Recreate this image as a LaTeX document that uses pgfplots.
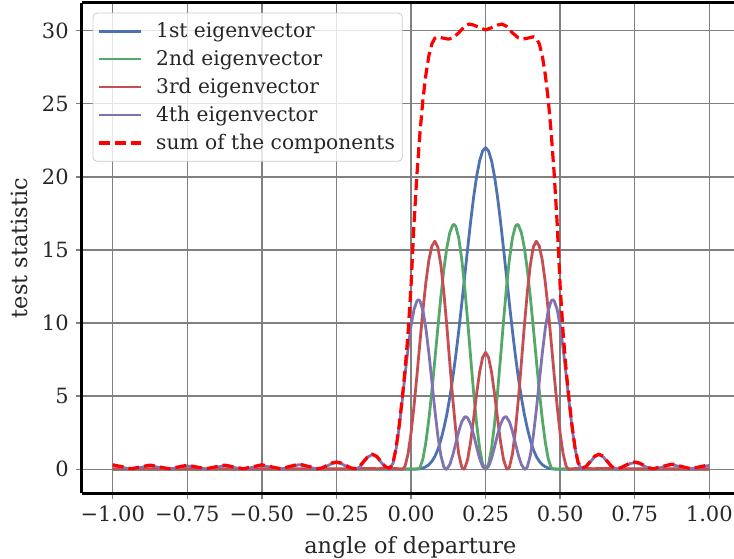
\documentclass[border=0pt]{standalone}
\usepackage{fontspec}
\setmainfont{DejaVu Serif}
\usepackage{pgfplots}
\pgfplotsset{compat=1.18}
\usetikzlibrary{calc}
\definecolor{sbblue}{HTML}{4C72B0}
\definecolor{sbgreen}{HTML}{55A868}
\definecolor{sbred}{HTML}{C44E52}
\definecolor{sbpurple}{HTML}{8172B2}
\definecolor{txt}{HTML}{262626}
\definecolor{gridc}{HTML}{808080}
\definecolor{legc}{HTML}{CCCCCC}
\newcommand{\fs}{\fontsize{10.5pt}{12pt}\selectfont}
\newcommand{\fg}{\fontsize{10.1pt}{12pt}\selectfont}
\newcommand{\fl}{\fontsize{11.2pt}{13pt}\selectfont}
\begin{document}
\begin{tikzpicture}
\begin{axis}[name=ax, scale only axis, width=326.15pt, height=245.3pt,
  xmin=-1.104, xmax=1.0828, ymin=-1.64, ymax=31.91,
  axis x line=box, axis y line=left,
  axis line style={-, line width=1.5pt, black},
  xtick={-1,-0.75,-0.5,-0.25,0,0.25,0.5,0.75,1},
  xticklabels={−1.00,−0.75,−0.50,−0.25,0.00,0.25,0.50,0.75,1.00},
  ytick={0,5,10,15,20,25,30},
  yticklabels={0,5,10,15,20,25,30},
  xtick pos=bottom, ytick pos=left,
  tick align=outside, major tick length=3pt,
  tick style={gridc, line width=0.75pt},
  grid=major, grid style={gridc, line width=0.75pt},
  ticklabel style={font=\fs, text=txt},
  label style={font=\fl, text=txt},
  xlabel={angle of departure}, ylabel={test statistic},
  xlabel style={xshift=1.25pt},
  legend cell align=left,
  legend image code/.code={\draw[#1] (0pt,0pt) -- (21pt,0pt);},
  legend style={at={(0,1)}, anchor=north west, xshift=5.5pt, yshift=-5pt,
    draw=legc, fill=white, fill opacity=0.8, text opacity=1, draw opacity=1,
    rounded corners=2pt, font=\fg, text=txt, row sep=0.8pt,
    inner xsep=2.15pt, inner ysep=2.6pt, nodes={inner xsep=1.5pt},
    /tikz/every odd column/.append style={column sep=5.3pt}},
  every axis plot/.append style={line join=round},
]
\addplot[sbblue, line width=1.4pt] coordinates {
(-1,0) (-0.5,0) (0,0) (0.02,0.02) (0.03,0.04) (0.04,0.09) (0.05,0.18) (0.06,0.32) (0.07,0.55) (0.08,0.88) (0.09,1.35) (0.10,2.00) (0.11,2.80) (0.12,3.75) (0.13,4.91) (0.14,6.24) (0.15,7.77) (0.16,9.47) (0.17,11.30) (0.18,13.21) (0.19,15.12) (0.20,16.96) (0.21,18.63) (0.22,20.03) (0.23,21.10) (0.24,21.77) (0.25,22.00) (0.26,21.77) (0.27,21.10) (0.28,20.03) (0.29,18.63) (0.30,16.96) (0.31,15.12) (0.32,13.21) (0.33,11.30) (0.34,9.47) (0.35,7.77) (0.36,6.24) (0.37,4.91) (0.38,3.75) (0.39,2.80) (0.40,2.00) (0.41,1.35) (0.42,0.88) (0.43,0.55) (0.44,0.32) (0.45,0.18) (0.46,0.09) (0.47,0.04) (0.48,0.02) (0.50,0) (1,0)
};
\addplot[sbgreen, line width=1.4pt] coordinates {
(-1,0) (-0.05,0.01) (-0.01,0.03) (0.02,0.02) (0.03,0.10) (0.04,0.72) (0.05,1.87) (0.06,3.45) (0.07,5.37) (0.08,7.50) (0.09,9.69) (0.10,11.78) (0.11,13.65) (0.12,15.15) (0.13,16.19) (0.14,16.70) (0.144,16.75) (0.15,16.62) (0.16,15.83) (0.17,14.38) (0.18,12.43) (0.19,10.11) (0.20,7.63) (0.21,5.23) (0.22,3.10) (0.23,1.43) (0.24,0.365) (0.25,0) (0.26,0.365) (0.27,1.43) (0.28,3.10) (0.29,5.23) (0.30,7.63) (0.31,10.11) (0.32,12.43) (0.33,14.38) (0.34,15.83) (0.35,16.62) (0.356,16.75) (0.36,16.70) (0.37,16.19) (0.38,15.15) (0.39,13.65) (0.40,11.78) (0.41,9.69) (0.42,7.50) (0.43,5.37) (0.44,3.45) (0.45,1.87) (0.46,0.72) (0.47,0.10) (0.48,0.02) (0.51,0.03) (0.55,0.01) (1,0)
};
\addplot[sbred, line width=1.4pt] coordinates {
(-1,0.03) (-0.2,0.03) (-0.14,0.06) (-0.11,0.04) (-0.08,0.08) (-0.05,0.05) (-0.028,0) (-0.02,0.21) (-0.01,1.05) (0.00,2.45) (0.01,4.31) (0.02,6.45) (0.03,8.70) (0.04,10.89) (0.05,12.81) (0.06,14.32) (0.07,15.27) (0.08,15.6) (0.09,15.19) (0.10,13.99) (0.11,12.13) (0.12,9.82) (0.13,7.29) (0.14,4.815) (0.15,2.657) (0.16,1.045) (0.17,0.150) (0.176,0) (0.18,0.058) (0.19,0.686) (0.20,1.902) (0.21,3.490) (0.22,5.171) (0.23,6.644) (0.24,7.645) (0.25,8) (0.26,7.645) (0.27,6.644) (0.28,5.171) (0.29,3.490) (0.30,1.902) (0.31,0.686) (0.32,0.058) (0.324,0) (0.33,0.150) (0.34,1.045) (0.35,2.657) (0.36,4.815) (0.37,7.29) (0.38,9.82) (0.39,12.13) (0.40,13.99) (0.41,15.19) (0.42,15.6) (0.43,15.27) (0.44,14.32) (0.45,12.81) (0.46,10.89) (0.47,8.70) (0.48,6.45) (0.49,4.31) (0.50,2.45) (0.51,1.05) (0.52,0.21) (0.528,0) (0.55,0.05) (0.58,0.08) (0.61,0.04) (0.64,0.06) (0.7,0.03) (1,0.03)
};
\addplot[sbpurple, line width=1.4pt] coordinates {
(-1.0,0.27) (-0.96875,0.135) (-0.9375,0) (-0.90625,0.125) (-0.875,0.25) (-0.84375,0.125) (-0.8125,0) (-0.78125,0.12) (-0.75,0.24) (-0.71875,0.12) (-0.6875,0) (-0.65625,0.125) (-0.625,0.25) (-0.59375,0.125) (-0.5625,0) (-0.53125,0.135) (-0.5,0.27) (-0.46875,0.135) (-0.4375,0) (-0.40625,0.16) (-0.375,0.32) (-0.34375,0.16) (-0.3125,0)
(-0.2969,0.067) (-0.2813,0.23) (-0.2656,0.393) (-0.25,0.46) (-0.2344,0.393) (-0.2188,0.23) (-0.2031,0.067) (-0.1875,0)
(-0.1731,0.146) (-0.1586,0.5) (-0.1442,0.854) (-0.1298,1.0) (-0.1153,0.854) (-0.1009,0.5) (-0.0864,0.146) (-0.072,0)
(-0.06,0.43) (-0.05,1.41) (-0.04,2.84) (-0.03,4.59) (-0.02,6.46) (-0.01,8.26) (0.00,9.80) (0.01,10.93) (0.02,11.52) (0.025,11.6) (0.03,11.52) (0.04,10.86) (0.05,9.613) (0.06,7.926) (0.07,5.997) (0.08,4.045) (0.09,2.296) (0.10,0.950) (0.11,0.165) (0.117,0) (0.12,0.018) (0.13,0.330) (0.14,0.959) (0.15,1.777) (0.16,2.603) (0.17,3.249) (0.18,3.575) (0.183,3.6) (0.19,3.515) (0.20,3.079) (0.21,2.363) (0.22,1.525) (0.23,0.746) (0.24,0.197) (0.25,0)
(0.26,0.197) (0.27,0.746) (0.28,1.525) (0.29,2.363) (0.30,3.079) (0.31,3.515) (0.317,3.6) (0.32,3.575) (0.33,3.249) (0.34,2.603) (0.35,1.777) (0.36,0.959) (0.37,0.330) (0.38,0.018) (0.383,0) (0.39,0.165) (0.40,0.950) (0.41,2.296) (0.42,4.045) (0.43,5.997) (0.44,7.926) (0.45,9.613) (0.46,10.86) (0.47,11.52) (0.475,11.6) (0.48,11.52) (0.49,10.93) (0.50,9.80) (0.51,8.26) (0.52,6.46) (0.53,4.59) (0.54,2.84) (0.55,1.41) (0.56,0.43) (0.572,0)
(0.5864,0.146) (0.6009,0.5) (0.6153,0.854) (0.6298,1.0) (0.6442,0.854) (0.6586,0.5) (0.6731,0.146) (0.6875,0)
(0.7031,0.067) (0.7188,0.23) (0.7344,0.393) (0.75,0.46) (0.7656,0.393) (0.7813,0.23) (0.7969,0.067) (0.8125,0)
(0.84375,0.16) (0.875,0.32) (0.90625,0.16) (0.9375,0) (0.96875,0.135) (1.0,0.27)
};
\addplot[red, line width=1.6pt, dash pattern=on 5.5pt off 2.5pt] coordinates {
(-1.0,0.31) (-0.96875,0.175) (-0.9375,0.04) (-0.90625,0.165) (-0.875,0.29) (-0.84375,0.165) (-0.8125,0.04) (-0.78125,0.16) (-0.75,0.28) (-0.71875,0.16) (-0.6875,0.04) (-0.65625,0.165) (-0.625,0.29) (-0.59375,0.165) (-0.5625,0.04) (-0.53125,0.175) (-0.5,0.31) (-0.46875,0.175) (-0.4375,0.04) (-0.40625,0.2) (-0.375,0.36) (-0.34375,0.2) (-0.3125,0.04)
(-0.2969,0.107) (-0.2813,0.27) (-0.2656,0.433) (-0.25,0.5) (-0.2344,0.433) (-0.2188,0.27) (-0.2031,0.107) (-0.1875,0.04)
(-0.1731,0.186) (-0.1586,0.54) (-0.1442,0.894) (-0.1298,1.04) (-0.1153,0.894) (-0.1009,0.54) (-0.0864,0.19) (-0.072,0.06)
(-0.06,0.48) (-0.05,1.47) (-0.04,2.95) (-0.03,4.75) (-0.02,6.8) (-0.01,9.3) (0.00,12.5) (0.01,16.8) (0.02,20.2) (0.03,23.0) (0.04,25.3) (0.05,27.0) (0.06,28.3) (0.07,29.1) (0.08,29.48) (0.09,29.58) (0.105,29.5) (0.125,29.42) (0.14,29.5) (0.16,29.85) (0.18,30.3) (0.195,30.45) (0.21,30.38) (0.23,30.2) (0.25,30.05)
(0.27,30.2) (0.29,30.38) (0.305,30.45) (0.32,30.3) (0.34,29.85) (0.36,29.5) (0.375,29.42) (0.395,29.5) (0.41,29.58) (0.42,29.48) (0.43,29.1) (0.44,28.3) (0.45,27.0) (0.46,25.3) (0.47,23.0) (0.48,20.2) (0.49,16.8) (0.50,12.5) (0.51,9.3) (0.52,6.8) (0.53,4.75) (0.54,2.95) (0.55,1.47) (0.56,0.48) (0.572,0.06)
(0.5864,0.19) (0.6009,0.54) (0.6153,0.894) (0.6298,1.04) (0.6442,0.894) (0.6586,0.54) (0.6731,0.186) (0.6875,0.04)
(0.7031,0.107) (0.7188,0.27) (0.7344,0.433) (0.75,0.5) (0.7656,0.433) (0.7813,0.27) (0.7969,0.107) (0.8125,0.04)
(0.84375,0.2) (0.875,0.36) (0.90625,0.2) (0.9375,0.04) (0.96875,0.175) (1.0,0.31)
};
\legend{1st eigenvector, 2nd eigenvector, 3rd eigenvector, 4th eigenvector, sum of the components}
\end{axis}
\pgfresetboundingbox
\path[use as bounding box] ($(ax.south west)+(-40.85pt,-32.35pt)$) rectangle ($(ax.north east)+(0pt,1.35pt)$);
\end{tikzpicture}
\end{document}
